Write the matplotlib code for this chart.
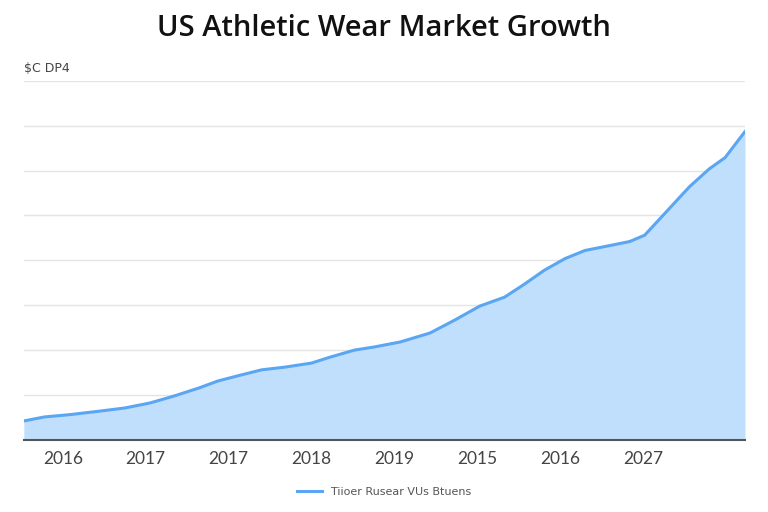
import matplotlib.pyplot as plt

# data (x in tick units, y in gridline units)
xs = [-0.47, -0.22, 0.08, 0.45, 0.75, 1.05, 1.35, 1.65, 1.87, 2.14, 2.40, 2.68,
      3.00, 3.22, 3.52, 3.76, 4.07, 4.43, 4.73, 5.03, 5.33, 5.57, 5.81, 6.06,
      6.30, 6.60, 6.84, 7.02, 7.26, 7.56, 7.80, 7.99, 8.23]
values = [0.42, 0.51, 0.56, 0.64, 0.71, 0.82, 0.98, 1.16, 1.31, 1.44, 1.56, 1.62,
          1.71, 1.84, 2.00, 2.07, 2.18, 2.38, 2.67, 2.98, 3.18, 3.47, 3.78, 4.04,
          4.22, 4.33, 4.42, 4.56, 5.04, 5.64, 6.04, 6.29, 6.87]
tick_labels = ['2016', '2017', '2017', '2018', '2019', '2015', '2016', '2027']
series_name = 'Tiioer Rusear VUs Btuens'
unit_label = '$C DP4'

fig = plt.figure(figsize=(7.68, 5.12), dpi=100)
ax = fig.add_axes([0.031, 0.141, 0.939, 0.701])

line_col = '#5aa6f2'
fill_col = '#bfdffc'

ax.fill_between(xs, values, 0, color=fill_col, linewidth=0)
ax.plot(xs, values, color=line_col, lw=2.2, label=series_name)

ax.set_xlim(xs[0], xs[-1])
ax.set_ylim(0, 8)
ax.set_yticks(range(1, 9))
ax.set_yticklabels([])
ax.tick_params(axis='y', length=0)
ax.grid(axis='y', color='#e4e4e4', lw=1)
ax.set_axisbelow(True)

ax.set_xticks(range(len(tick_labels)))
ax.set_xticklabels(tick_labels, fontsize=12.5, color='#444444', family='Lato')
ax.tick_params(axis='x', length=0, pad=8)

for s in ['top', 'right', 'left']:
    ax.spines[s].set_visible(False)
ax.spines['bottom'].set_color('#555555')
ax.spines['bottom'].set_linewidth(1.5)

fig.text(0.5, 0.945, 'US Athletic Wear Market Growth', ha='center', va='center',
         fontsize=21, fontweight='semibold', family='Open Sans', color='#111111')
fig.text(0.031, 0.867, unit_label, ha='left', va='center', fontsize=9, color='#444444')

fig.legend(loc='center', bbox_to_anchor=(0.5, 0.04), frameon=False,
           fontsize=8, labelcolor='#555555', handlelength=2.2)

fig.savefig('out.png', dpi=100)
